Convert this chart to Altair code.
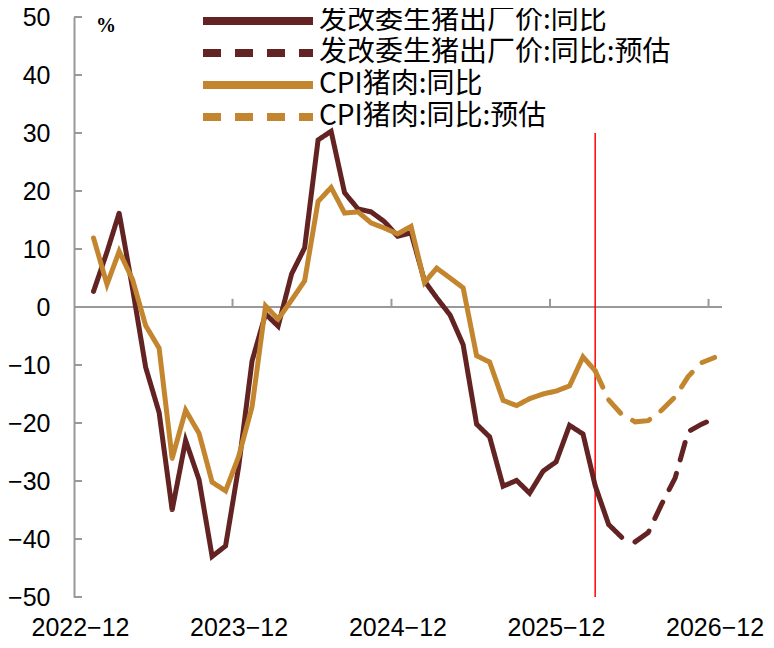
import altair as alt
import pandas as pd

# monthly observations, plotted mid-month (2023-01 .. 2026-12)
months = pd.date_range("2023-01-01", "2026-12-01", freq="MS")
month_dates = [(m + pd.Timedelta(days=14)).strftime("%Y-%m-%d") for m in months]

series_names = [
    "发改委生猪出厂价:同比",
    "发改委生猪出厂价:同比:预估",
    "CPI猪肉:同比",
    "CPI猪肉:同比:预估",
]
series_colors = ["#622322", "#622322", "#C3862F", "#C3862F"]
series_dashes = [[1, 0], [18, 14], [1, 0], [18, 14]]

# 发改委生猪出厂价 yoy, 2023-01 .. 2026-05
ndrc_actual = [
    2.7, 9.5, 16.2, 3.1, -10.4, -18.2, -35.0, -23.0, -29.8, -43.0, -41.2, -27.6,
    -9.3, -1.2, -3.3, 5.7, 10.2, 28.8, 30.3, 19.7, 16.9, 16.4, 14.7, 12.2,
    12.8, 4.5, 1.6, -1.4, -6.5, -20.2, -22.4, -30.9, -29.9, -32.1, -28.3, -26.7,
    -20.4, -21.9, -30.8, -37.5, -39.7,
]
# forecast, 2026-05 .. 2026-12
ndrc_forecast = [-39.7, -40.5, -38.9, -34.0, -29.5, -21.5, -20.2, -19.2]

# CPI猪肉 yoy, 2023-01 .. 2026-03
cpi_actual = [
    11.9, 3.9, 9.6, 4.7, -3.2, -7.1, -26.1, -17.8, -21.8, -30.2, -31.7, -25.8,
    -17.2, 0.2, -2.1, 1.2, 4.5, 18.2, 20.6, 16.2, 16.4, 14.5, 13.6, 12.6,
    13.9, 4.2, 6.7, 5.0, 3.3, -8.4, -9.5, -16.1, -17.0, -15.8, -15.0, -14.5,
    -13.6, -8.6, -11.0,
]
# forecast, 2026-03 .. 2026-12
cpi_forecast = [-11.0, -16.0, -18.5, -19.8, -19.6, -17.8, -15.5, -12.0, -9.6, -8.7]

y_ticks = list(range(-50, 51, 10))
year_ticks = ["2023-12-01", "2024-12-01", "2025-12-01", "2026-12-01"]
forecast_marker = "2026-03-15"


def series_frame(name, values, start):
    return pd.DataFrame(
        {"date": month_dates[start:start + len(values)], "value": values, "series": name}
    )


frames = [
    series_frame(series_names[0], ndrc_actual, 0),
    series_frame(series_names[1], ndrc_forecast, 40),
    series_frame(series_names[2], cpi_actual, 0),
    series_frame(series_names[3], cpi_forecast, 38),
]

x_scale = alt.Scale(
    domain=[
        alt.DateTime(year=2022, month=12, date=1),
        alt.DateTime(year=2027, month=1, date=1),
    ]
)
y_scale = alt.Scale(domain=[-50, 50], nice=False)

x_axis = alt.Axis(
    values=[alt.DateTime(year=y, month=12, date=1) for y in range(2022, 2027)],
    labelExpr="timeFormat(datum.value, '%Y') + '−' + timeFormat(datum.value, '%m')",
    domain=False,
    ticks=False,
    grid=False,
    labelFontSize=25,
    labelFont="Liberation Sans",
    labelColor="black",
    labelPadding=18,
    labelOffset=6,
    labelFlush=False,
    labelOverlap=False,
    title=None,
)
y_axis = alt.Axis(
    values=y_ticks,
    ticks=False,
    grid=False,
    domainColor="#999999",
    domainWidth=2,
    labelFontSize=25,
    labelFont="Liberation Sans",
    labelColor="black",
    labelPadding=24,
    title=None,
)

legend = alt.Legend(
    title=None,
    orient="none",
    legendX=125,
    legendY=-10,
    symbolType="stroke",
    symbolSize=12100,
    symbolStrokeWidth=8,
    clipHeight=28,
    labelFontSize=28,
    labelFont="Noto Sans CJK SC",
    labelColor="black",
    labelLimit=0,
    labelOffset=2,
    rowPadding=4,
    padding=0,
)


def line_layer(df, dash_offset=0):
    return (
        alt.Chart(df)
        .mark_line(strokeWidth=5, strokeCap="round", strokeDashOffset=dash_offset)
        .encode(
            x=alt.X("date:T", scale=x_scale, axis=x_axis),
            y=alt.Y("value:Q", scale=y_scale, axis=y_axis),
            color=alt.Color(
                "series:N",
                scale=alt.Scale(domain=series_names, range=series_colors),
                legend=legend,
            ),
            strokeDash=alt.StrokeDash(
                "series:N",
                scale=alt.Scale(domain=series_names, range=series_dashes),
                legend=legend,
            ),
        )
    )


zero_line = (
    alt.Chart(pd.DataFrame({"v": [0]}))
    .mark_rule(color="#999999", strokeWidth=2)
    .encode(y=alt.Y("v:Q", scale=y_scale, axis=y_axis))
)

year_tick_marks = (
    alt.Chart(pd.DataFrame({"date": year_ticks, "lo": 0, "hi": 1.4}))
    .mark_rule(color="#999999", strokeWidth=2)
    .encode(
        x=alt.X("date:T", scale=x_scale, axis=x_axis),
        y=alt.Y("lo:Q", scale=y_scale, axis=y_axis),
        y2="hi:Q",
    )
)

y_tick_marks = (
    alt.Chart(pd.DataFrame({"tick": y_ticks}))
    .mark_rule(color="#999999", strokeWidth=2)
    .encode(
        y=alt.Y("tick:Q", scale=y_scale, axis=y_axis),
        x=alt.value(0),
        x2=alt.value(8),
    )
)

red_line = (
    alt.Chart(pd.DataFrame({"date": [forecast_marker], "top": [30], "bottom": [-50]}))
    .mark_rule(color="#FF0000", strokeWidth=1.5)
    .encode(
        x=alt.X("date:T", scale=x_scale, axis=x_axis),
        y=alt.Y("top:Q", scale=y_scale, axis=y_axis),
        y2="bottom:Q",
    )
)

unit_label = (
    alt.Chart(pd.DataFrame({"t": ["%"]}))
    .mark_text(fontSize=20, fontWeight="bold", font="Liberation Sans Narrow", color="black")
    .encode(text="t:N", x=alt.value(32), y=alt.value(9))
)

chart = (
    alt.layer(
        zero_line,
        year_tick_marks,
        y_tick_marks,
        red_line,
        line_layer(frames[0]),
        line_layer(frames[1], dash_offset=18),
        line_layer(frames[2]),
        line_layer(frames[3]),
        unit_label,
    )
    .properties(
        width=648,
        height=580,
        autosize=alt.AutoSizeParams(type="none"),
        padding={"left": 66, "top": 9, "right": 44, "bottom": 43},
    )
    .configure_view(stroke=None)
)

chart.save("out.html", embed_options={"renderer": "svg", "actions": False})
